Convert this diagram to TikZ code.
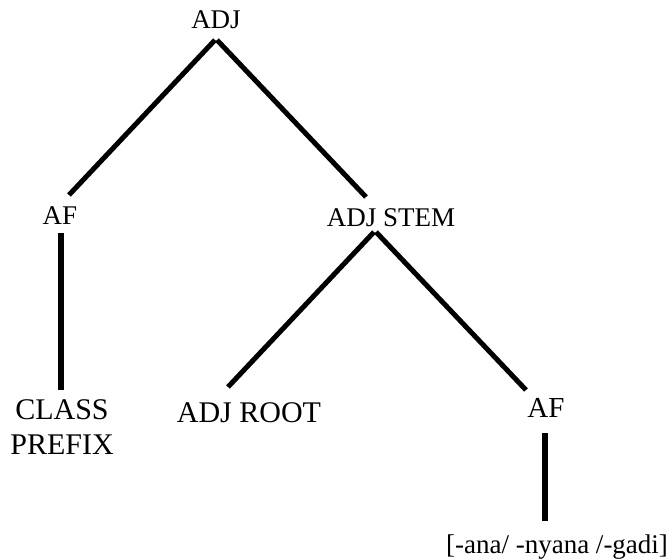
\documentclass[tikz,border=0pt]{standalone}
\usepackage{fontspec}
\setmainfont{Liberation Serif}
\usetikzlibrary{calc}
\tikzset{
  catLabel/.style={inner sep=0pt, anchor=base, font=\fontsize{27}{32}\selectfont},
  leafLabel/.style={inner sep=0pt, anchor=base, font=\fontsize{30}{35}\selectfont},
  branch/.style={draw=black, line width=5pt},
  stalk/.style={draw=black, line width=6pt}
}

\begin{document}
\begin{tikzpicture}[x=1pt,y=-1pt]
  \useasboundingbox (0,0) rectangle (669,559);

  \node[catLabel] (adj) at (216,29) {ADJ};
  \node[catLabel] (afL) at (60,224) {AF};
  \node[catLabel] (stem) at (391,226) {ADJ STEM};
  \node[leafLabel, align=center] (classP) at (62,454) {CLASS\\PREFIX};
  \node[leafLabel] (root) at (249,422) {ADJ ROOT};
  \node[leafLabel, font=\fontsize{29}{34}\selectfont] (afR) at (546,417) {AF};
  \node[catLabel] (suffix) at (557,553) {[-ana/ -nyana /-gadi]};

  \draw[branch] ([xshift=-1pt,yshift=-11pt]adj.base) -- ([xshift=9pt,yshift=29pt]afL.base);
  \draw[branch] ([xshift=1pt,yshift=-11pt]adj.base) -- ([xshift=-25pt,yshift=29pt]stem.base);
  \draw[stalk] ([xshift=1pt,yshift=-9pt]afL.base) -- ([xshift=-1pt,yshift=64pt]classP.base);
  \draw[branch] ([xshift=-17pt,yshift=-6pt]stem.base) -- ([xshift=-21pt,yshift=35pt]root.base);
  \draw[branch] ([xshift=-15pt,yshift=-6pt]stem.base) -- ([xshift=-20pt,yshift=27pt]afR.base);
  \draw[stalk] ([xshift=-1pt,yshift=-16pt]afR.base) -- ([xshift=-12pt,yshift=32pt]suffix.base);
\end{tikzpicture}
\end{document}
